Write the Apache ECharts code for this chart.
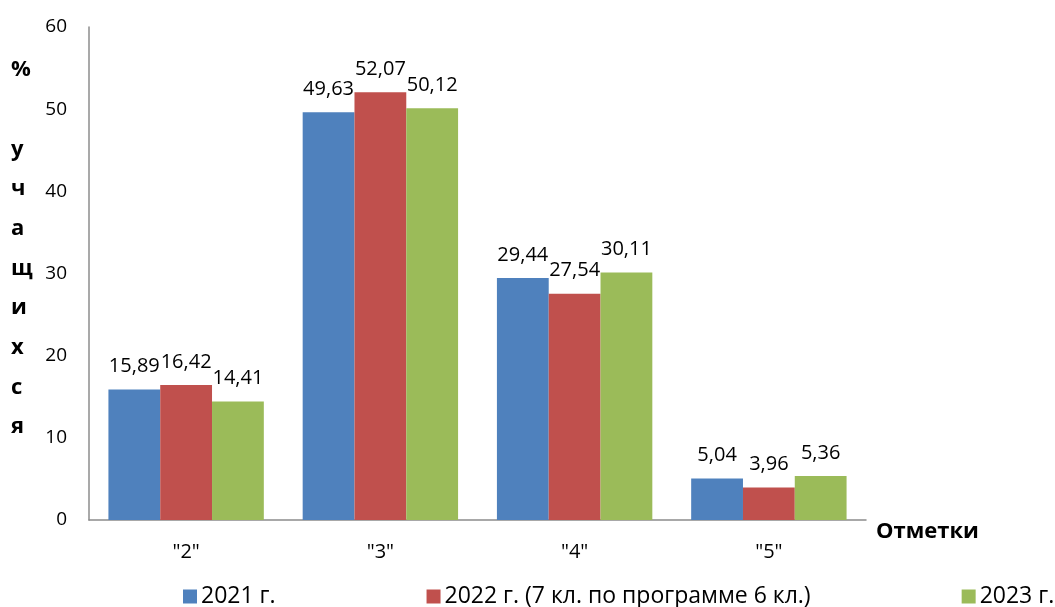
<!DOCTYPE html>
<html>
<head>
<meta charset="utf-8">
<script src="https://cdn.jsdelivr.net/npm/echarts@6/dist/echarts.min.js"></script>
<style>
  html, body { margin: 0; padding: 0; background: #fff; }
  #chart { width: 1055px; height: 607px; }
</style>
</head>
<body>
<div id="chart"></div>
<script>
// Grade categories and the share of students per year
const categories = ['"2"', '"3"', '"4"', '"5"'];
const seriesNames = ['2021 г.', '2022 г. (7 кл. по программе 6 кл.)', '2023 г.'];
const values2021 = [15.89, 49.63, 29.44, 5.04];
const values2022 = [16.42, 52.07, 27.54, 3.96];
const values2023 = [14.41, 50.12, 30.11, 5.36];
const yTicks = [0, 10, 20, 30, 40, 50, 60];

const colors = ['#4F81BD', '#C0504D', '#9BBB59'];
const font = '"Open Sans", "DejaVu Sans", sans-serif';

function fmt(v) { return v.toFixed(2).replace('.', ','); }

function barSeries(name, data, color) {
  return {
    name: name,
    type: 'bar',
    data: data,
    barGap: '0%',
    barCategoryGap: '20%',
    itemStyle: { color: color },
    label: {
      show: true,
      position: 'top',
      distance: 13,
      color: '#000',
      fontFamily: font,
      fontSize: 20,
      formatter: p => fmt(p.value)
    }
  };
}

const chart = echarts.init(document.getElementById('chart'));
chart.setOption({
  animation: false,
  textStyle: { fontFamily: font },
  grid: { left: 89, right: 189, top: 27, bottom: 87, containLabel: false },
  legend: {
    top: 585,
    left: 183,
    width: 900,
    padding: 0,
    itemGap: 151,
    itemWidth: 14,
    itemHeight: 14,
    icon: 'rect',
    textStyle: { fontSize: 23, color: '#000', fontFamily: font, padding: [0, 0, 0, -1] },
    data: seriesNames
  },
  xAxis: {
    type: 'category',
    data: categories,
    axisLine: { lineStyle: { color: '#8c8c8c', width: 1.5 } },
    axisTick: { show: false },
    axisLabel: { fontSize: 20, color: '#000', margin: 22, fontFamily: font }
  },
  yAxis: {
    type: 'value',
    min: yTicks[0],
    max: yTicks[yTicks.length - 1],
    interval: 10,
    splitLine: { show: false },
    axisLine: { show: true, lineStyle: { color: '#8c8c8c', width: 1.5 } },
    axisTick: { show: false },
    axisLabel: { fontSize: 19, color: '#000', margin: 22, fontFamily: font }
  },
  graphic: [
    {
      type: 'text',
      left: 11,
      top: 50,
      style: {
        text: '%\n\nу\nч\nа\nщ\nи\nх\nс\nя',
        font: 'bold 22px ' + font,
        lineHeight: 39.7,
        fill: '#000',
        align: 'center'
      }
    },
    {
      type: 'text',
      left: 876,
      top: 521,
      style: {
        text: 'Отметки',
        font: 'bold 22px ' + font,
        fill: '#000'
      }
    }
  ],
  series: [
    barSeries(seriesNames[0], values2021, colors[0]),
    barSeries(seriesNames[1], values2022, colors[1]),
    barSeries(seriesNames[2], values2023, colors[2])
  ]
});
</script>
</body>
</html>
